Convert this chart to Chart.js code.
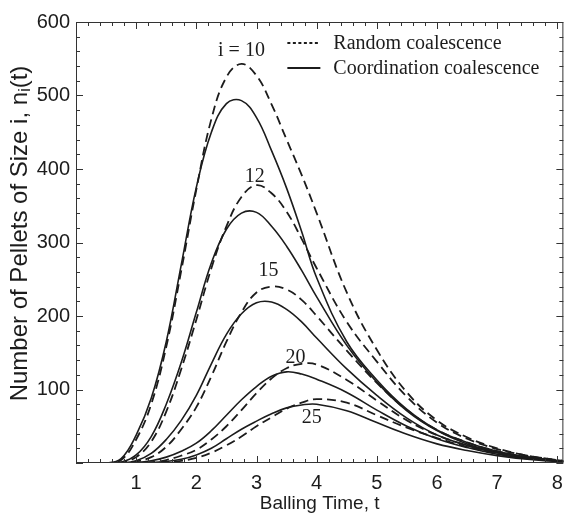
<!DOCTYPE html>
<html>
<head>
<meta charset="utf-8">
<script src="https://cdn.jsdelivr.net/npm/chart.js@4/dist/chart.umd.min.js"></script>
<style>
  html, body { margin: 0; padding: 0; background: #fff; }
  canvas { display: block; }
</style>
</head>
<body>
<canvas id="chart" width="571" height="515"></canvas>
<script>
// balling time samples (x values shared by every curve)
const TIME = [0, 0.5, 0.75, 1, 1.25, 1.5, 1.75, 2, 2.25, 2.5, 2.75, 3, 3.25, 3.5, 3.75, 4, 4.5, 5, 5.5, 6, 6.5, 7, 7.5, 8, 8.1]

// coordination coalescence (solid)
const COORD_10 = [0, 0, 6, 38, 88, 165, 270, 375, 450, 489, 493, 470, 425, 374, 315, 252, 165, 113, 73, 45, 28, 16, 8, 3, 2]
const COORD_12 = [0, 0, 1, 11, 36, 80, 137, 205, 272, 318, 340, 341, 322, 295, 262, 226, 160, 110, 71, 44, 26, 15, 8, 3, 2]
const COORD_15 = [0, 0, 0, 3, 13, 32, 58, 92, 135, 175, 203, 218, 219, 209, 192, 170, 128, 92, 61, 38, 24, 14, 7, 3, 2]
const COORD_20 = [0, 0, 0, 0.5, 3, 8, 16, 27, 44, 65, 86, 104, 118, 124, 121, 114, 96, 72, 50, 33, 21, 12, 6, 3, 2]
const COORD_25 = [0, 0, 0, 0, 0.5, 2, 5, 11, 20, 33, 46, 57, 67, 75, 79, 80, 71, 55, 39, 26, 17, 10, 5, 2, 1.5]

// random coalescence (dashed)
const RANDOM_10 = [0, 0, 4, 32, 80, 158, 262, 372, 468, 525, 543, 527, 488, 440, 392, 340, 232, 154, 96, 58, 35, 20, 10, 4, 3]
const RANDOM_12 = [0, 0, 1, 8, 29, 70, 128, 195, 265, 322, 362, 378, 367, 342, 305, 265, 192, 138, 90, 55, 33, 19, 10, 4, 3]
const RANDOM_15 = [0, 0, 0, 2, 8, 22, 46, 76, 118, 165, 205, 232, 240, 236, 222, 200, 153, 109, 72, 45, 28, 16, 8, 3, 2]
const RANDOM_20 = [0, 0, 0, 0, 1, 4, 10, 18, 32, 50, 72, 95, 115, 129, 135, 134, 113, 85, 58, 38, 24, 14, 7, 3, 2]
const RANDOM_25 = [0, 0, 0, 0, 0, 1, 3, 7, 14, 24, 36, 50, 62, 74, 82, 87, 82, 65, 48, 34, 22, 13, 7, 3, 2]

const X_TICKS = [1, 2, 3, 4, 5, 6, 7, 8]
const Y_TICKS = [100, 200, 300, 400, 500, 600]

// size labels next to the peaks: [text, t, n]
const CURVE_LABELS = [
  ['i = 10', 2.75, 561],
  ['12', 2.97, 390],
  ['15', 3.2, 261],
  ['20', 3.65, 143],
  ['25', 3.92, 62],
]

const LEGEND_ITEMS = [
  ['Random coalescence', [3, 2.5]],
  ['Coordination coalescence', []],
]

const SERIES = [
  ['Random i=10', RANDOM_10, true],
  ['Random i=12', RANDOM_12, true],
  ['Random i=15', RANDOM_15, true],
  ['Random i=20', RANDOM_20, true],
  ['Random i=25', RANDOM_25, true],
  ['Coordination i=10', COORD_10, false],
  ['Coordination i=12', COORD_12, false],
  ['Coordination i=15', COORD_15, false],
  ['Coordination i=20', COORD_20, false],
  ['Coordination i=25', COORD_25, false],
]

const INK = '#1c1c1c'
const SANS = '"Liberation Sans", Arial, sans-serif'
const SERIF = '"Liberation Serif", "Times New Roman", serif'

function datasetFor([label, values, dashed]) {
  return {
    label,
    data: TIME.map((t, i) => ({ x: t, y: values[i] })),
    borderColor: INK,
    borderWidth: dashed ? 1.8 : 1.6,
    borderDash: dashed ? [9, 5] : [],
    pointRadius: 0,
    fill: false,
    tension: 0.4,
  }
}

// box round the plot with inward ticks on all four sides
const framePlugin = {
  id: 'frame',
  afterDatasetsDraw(chart) {
    const { ctx, chartArea: a, scales: { x, y } } = chart
    ctx.save()
    ctx.strokeStyle = '#333'
    ctx.lineWidth = 1
    ctx.strokeRect(a.left + 0.5, a.top + 0.5, a.right - a.left - 1, a.bottom - a.top - 1)
    ctx.beginPath()
    for (let k = 0; k <= 40; k++) {
      const px = Math.round(x.getPixelForValue(k * 0.2)) + 0.5
      const len = k % 5 === 0 ? 7 : 4
      ctx.moveTo(px, a.bottom); ctx.lineTo(px, a.bottom - len)
      ctx.moveTo(px, a.top); ctx.lineTo(px, a.top + len)
    }
    for (let k = 0; k <= 30; k++) {
      const py = Math.round(y.getPixelForValue(k * 20)) + 0.5
      const len = k % 5 === 0 ? 7 : 4
      ctx.moveTo(a.left, py); ctx.lineTo(a.left + len, py)
      ctx.moveTo(a.right, py); ctx.lineTo(a.right - len, py)
    }
    ctx.stroke()
    ctx.restore()
  },
}

const textPlugin = {
  id: 'texts',
  afterDraw(chart) {
    const { ctx, chartArea: a, scales: { x, y } } = chart
    ctx.save()
    ctx.fillStyle = INK
    ctx.strokeStyle = INK

    // curve size labels
    ctx.font = `20px ${SERIF}`
    ctx.textAlign = 'center'
    ctx.textBaseline = 'middle'
    for (const [text, t, n] of CURVE_LABELS) {
      ctx.fillText(text, x.getPixelForValue(t), y.getPixelForValue(n))
    }

    // legend
    ctx.textAlign = 'left'
    LEGEND_ITEMS.forEach(([text, dash], i) => {
      const ly = a.top + 21 + i * 25
      const lx = a.right - 276
      ctx.beginPath()
      ctx.setLineDash(dash)
      ctx.lineWidth = 2
      ctx.moveTo(lx, ly); ctx.lineTo(lx + 33, ly)
      ctx.stroke()
      ctx.setLineDash([])
      ctx.fillText(text, lx + 46, ly + 1)
    })

    // y axis title with subscript
    const main = 'Number of Pellets of Size i, n'
    const sub = 'i'
    const tail = '(t)'
    const big = `24px ${SANS}`
    const small = `16px ${SANS}`
    ctx.font = big
    const w1 = ctx.measureText(main).width
    const w3 = ctx.measureText(tail).width
    ctx.font = small
    const w2 = ctx.measureText(sub).width
    const total = w1 + w2 + w3
    ctx.translate(20, (a.top + a.bottom) / 2 - 9)
    ctx.rotate(-Math.PI / 2)
    ctx.textBaseline = 'middle'
    let cx = -total / 2
    ctx.font = big
    ctx.fillText(main, cx, 0)
    cx += w1
    ctx.font = small
    ctx.fillText(sub, cx, 6)
    cx += w2
    ctx.font = big
    ctx.fillText(tail, cx, 0)
    ctx.restore()
  },
}

new Chart(document.getElementById('chart'), {
  type: 'line',
  data: { datasets: SERIES.map(datasetFor) },
  options: {
    responsive: false,
    animation: false,
    layout: { padding: { top: 22, right: 7, left: 0, bottom: 0 } },
    plugins: { legend: { display: false }, tooltip: { enabled: false } },
    scales: {
      x: {
        type: 'linear',
        min: 0,
        max: 8.1,
        afterBuildTicks: (scale) => { scale.ticks = X_TICKS.map((value) => ({ value })) },
        afterFit: (scale) => { scale.height = 52 },
        grid: { display: false, drawTicks: false },
        border: { display: false },
        ticks: { color: INK, font: { family: SANS, size: 20 }, padding: 8, maxRotation: 0, autoSkip: false },
        title: {
          display: true,
          text: 'Balling Time, t',
          color: INK,
          font: { family: SANS, size: 19 },
          padding: { top: 0, bottom: 0 },
        },
      },
      y: {
        min: 0,
        max: 600,
        afterBuildTicks: (scale) => { scale.ticks = Y_TICKS.map((value) => ({ value })) },
        afterFit: (scale) => { scale.width = 76 },
        grid: { display: false, drawTicks: false },
        border: { display: false },
        ticks: { color: INK, font: { family: SANS, size: 20 }, padding: 6 },
      },
    },
  },
  plugins: [framePlugin, textPlugin],
})
</script>
</body>
</html>
